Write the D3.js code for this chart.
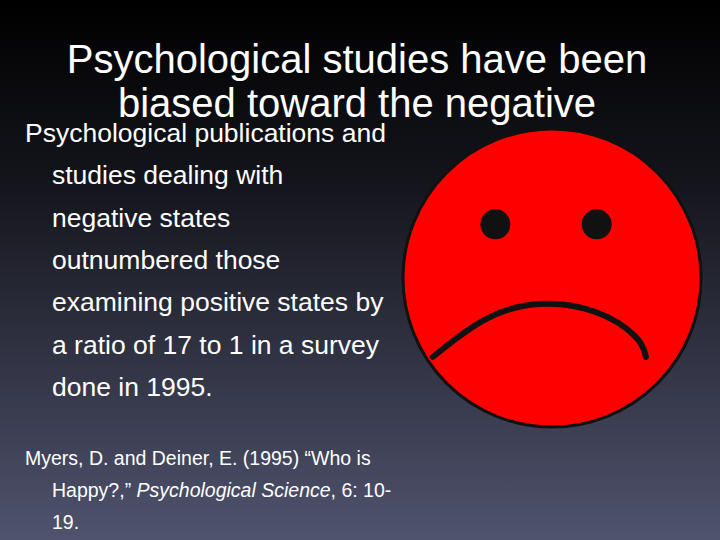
<!DOCTYPE html>
<html><head><meta charset="utf-8">
<script src="https://cdn.jsdelivr.net/npm/d3@7"></script>
<style>body{margin:0;background:#000}</style>
</head><body>
<svg id="slide" width="720" height="540"></svg>
<script>
var titleLines = ["Psychological studies have been", "biased toward the negative"]
var bodyLines = ["Psychological publications and", "studies dealing with", "negative states", "outnumbered those",
                 "examining positive states by", "a ratio of 17 to 1 in a survey", "done in 1995."]
var citeLines = [["Myers, D. and Deiner, E. (1995) \u201cWho is"],
                 ["Happy?,\u201d ", "Psychological Science", ", 6: 10-"],
                 ["19."]]
// face features in unit coordinates (face radius = 1)
var eyes = [{x: -0.38, y: -0.36}, {x: 0.3, y: -0.36}]
var mouth = [{x: -0.8, y: 0.53}, {x: -0.45, y: 0.25}, {x: -0.1, y: 0.15}, {x: 0.3, y: 0.2}, {x: 0.6, y: 0.4}, {x: 0.63, y: 0.53}]

var svg = d3.select("#slide")
var defs = svg.append("defs")
var grad = defs.append("linearGradient").attr("id", "bg").attr("x1", 0).attr("y1", 0).attr("x2", 0).attr("y2", 1)
grad.append("stop").attr("offset", "0%").attr("stop-color", "#000000")
grad.append("stop").attr("offset", "35%").attr("stop-color", "#15161d")
grad.append("stop").attr("offset", "100%").attr("stop-color", "#4f536d")
svg.append("rect").attr("width", 720).attr("height", 540).attr("fill", "url(#bg)")

// face
var fx = d3.scaleLinear().domain([-1, 1]).range([403, 701])
var fy = d3.scaleLinear().domain([-1, 1]).range([129, 427])
svg.append("circle").attr("cx", fx(0)).attr("cy", fy(0)).attr("r", fx(1) - fx(0))
    .attr("fill", "#ff0000").attr("stroke", "#111").attr("stroke-width", 3)
svg.selectAll("circle.eye").data(eyes).enter().append("circle").attr("class", "eye")
    .attr("cx", d => fx(d.x)).attr("cy", d => fy(d.y)).attr("r", 15).attr("fill", "#111")
svg.append("path").datum(mouth)
    .attr("d", d3.line().x(d => fx(d.x)).y(d => fy(d.y)).curve(d3.curveBasis))
    .attr("fill", "none").attr("stroke", "#111").attr("stroke-width", 6).attr("stroke-linecap", "round")

// text
svg.selectAll("text.title").data(titleLines).enter().append("text").attr("class", "title")
    .attr("x", 357).attr("y", (d, i) => 73 + i * 44).attr("text-anchor", "middle")
    .style("font", "40px 'Liberation Sans', Arial, sans-serif").attr("fill", "#fff").text(d => d)
var bodyY = d3.scaleLinear().domain([0, 1]).range([142, 184.3])
svg.selectAll("text.body").data(bodyLines).enter().append("text").attr("class", "body")
    .attr("x", (d, i) => i == 0 ? 25 : 52).attr("y", (d, i) => bodyY(i))
    .style("font", "26.5px 'Liberation Sans', Arial, sans-serif").attr("fill", "#fff").text(d => d)
var cite = svg.selectAll("text.cite").data(citeLines).enter().append("text").attr("class", "cite")
    .attr("x", (d, i) => i == 0 ? 25 : 52).attr("y", (d, i) => 465 + i * 32)
    .style("font", "19.5px 'Liberation Sans', Arial, sans-serif").attr("fill", "#fff")
cite.selectAll("tspan").data(d => d).enter().append("tspan")
    .style("font-style", (d, i) => i == 1 ? "italic" : "normal").text(d => d)
</script>
</body></html>
